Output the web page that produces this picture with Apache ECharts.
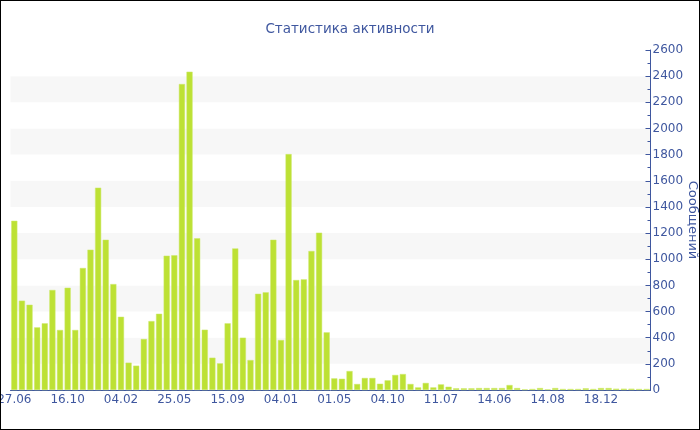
<!DOCTYPE html>
<html><head><meta charset="utf-8">
<script src="https://cdn.jsdelivr.net/npm/echarts@6/dist/echarts.min.js"></script>
<style>
html,body{margin:0;padding:0;background:#fff;}
#c{width:700px;height:430px;box-sizing:border-box;border:1px solid #000;}
</style></head><body>
<div id="c"></div>
<script>
const tickLabels = ["27.06","16.10","04.02","25.05","15.09","04.01","01.05","04.10","11.07","14.06","14.08","18.12"];
const labelStep = 7;
const messages = [
 1294,683,652,479,510,765,459,782,459,933,
 1073,1547,1149,810,560,209,186,390,527,583,
 1027,1030,2340,2434,1160,461,247,204,510,1083,
 400,229,736,747,1149,382,1804,841,846,1063,
 1203,441,89,86,145,46,92,92,48,74,
 115,122,46,20,54,20,43,25,13,13,
 13,15,15,15,15,38,15,5,8,15,
 5,15,8,8,8,13,8,15,15,10,
 10,10,8,8
];
const categories = messages.map((v,i)=>i);
const blue = '#3f579f';
const font = 'DejaVu Sans, Verdana, sans-serif';
const chart = echarts.init(document.getElementById('c'));
chart.setOption({
  animation:false,
  textStyle:{fontFamily:font},
  title:{text:'Статистика активности',left:'center',top:16,
    textStyle:{color:blue,fontSize:13.5,fontWeight:'normal',fontFamily:font}},
  grid:{left:9.5,right:48.5,top:49,bottom:39,outerBoundsMode:'none',containLabel:false},
  xAxis:{type:'category',data:categories,
    axisLine:{lineStyle:{color:blue,width:1}},
    axisTick:{alignWithLabel:true,interval:labelStep-1,length:3,lineStyle:{color:blue}},
    axisLabel:{interval:labelStep-1,margin:4,color:blue,fontSize:12,fontFamily:font,
      formatter:(v,i)=>tickLabels[i/labelStep]||''},
    splitLine:{show:false}},
  yAxis:{type:'value',position:'right',min:0,max:2600,interval:200,
    name:'Сообщений',nameLocation:'middle',nameGap:35,nameRotate:-90,nameMoveOverlap:false,
    nameTextStyle:{color:blue,fontSize:13,fontFamily:font},
    axisLine:{show:true,lineStyle:{color:blue}},
    axisTick:{show:true,inside:true,length:5,lineStyle:{color:blue}},
    minorTick:{show:true,splitNumber:2,length:3,lineStyle:{color:blue}},
    axisLabel:{margin:2,color:blue,fontSize:12,fontFamily:font,formatter:v=>String(v)},
    splitLine:{show:false},
    splitArea:{show:true,areaStyle:{color:['#ffffff','#f7f7f7']}}},
  series:[{type:'bar',data:messages,barCategoryGap:'20%',
    itemStyle:{color:'#bde134',borderColor:'#cde86a',borderWidth:0.5}}]
});
</script></body></html>
